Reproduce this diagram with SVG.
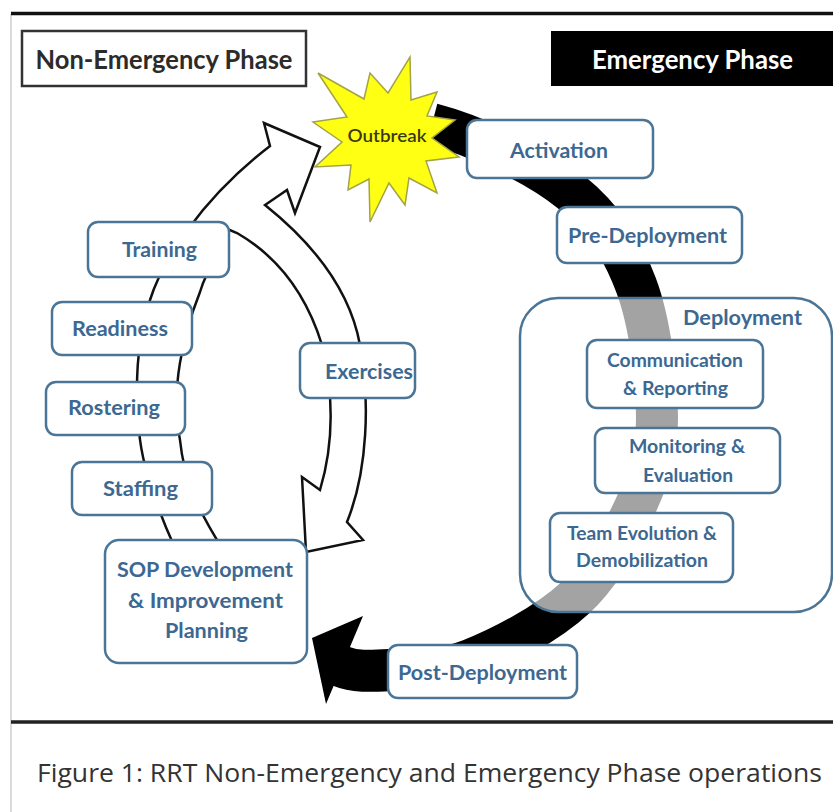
<svg xmlns="http://www.w3.org/2000/svg" width="833" height="812" viewBox="0 0 833 812">
<style>
.box{fill:#fff;stroke:#4a7596;stroke-width:2.5}
.t{font-family:Lato,"Liberation Sans",sans-serif;font-weight:bold;fill:#3c6891;text-anchor:middle}
.f20{font-size:20px}
.f18{font-size:18px}
.hdr{font-family:Lato,"Liberation Sans",sans-serif;font-weight:bold;font-size:26px;text-anchor:middle}
.arrow-fill{fill:#fff;stroke:none}
.arrow-line{fill:none;stroke:#111;stroke-width:2.5;stroke-linejoin:miter}
</style>
<rect width="833" height="812" fill="#fff"/>
<!-- frame -->
<line x1="11" y1="14" x2="11" y2="812" stroke="#cfcfcf" stroke-width="1.5"/>
<line x1="11" y1="13.5" x2="833" y2="13.5" stroke="#111" stroke-width="3.5"/>
<line x1="11" y1="722" x2="833" y2="722" stroke="#222" stroke-width="3.5"/>

<g id="connectors">
  <!-- emergency cycle band -->
  <path d="M 432,124 C 478,136 538.3,165.5 571,192 C 603.7,218.5 621.7,247.3 636,285 C 650.3,322.7 657,381.3 657,418 C 657,454.7 649.7,475 636,505 C 622.3,535 602.7,572.2 575,598 C 547.3,623.8 500.8,648 470,660 C 439.2,672 410.8,668.7 390,670 C 369.2,671.3 355,672 340,666" fill="none" stroke="#000" stroke-width="42"/>
  <polygon points="363,616 312,638 326,704" fill="#000"/>
  <!-- non-emergency hollow arrows -->
  <path class="arrow-fill" d="M 175,548 C 160,515 142,470 139,430 C 135,390 136,340 150,300 C 162,262 200,200 270,146 L 264,123 L 320,147 L 295,213 L 287,190 L 265,205 L 240,228 C 225,245 205,270 200,292 C 183,335 170,390 180,440 C 184,480 198,510 222,548 Z"/>
  <path class="arrow-fill" d="M 265,205 C 315,245 350,290 360,345 C 370,400 368,470 347,522 L 363,540 L 306,552 L 302,477 L 320,490 C 332,450 335,400 322,345 C 305,290 275,255 237,233 Z"/>
  <path class="arrow-line" d="M 175,548 C 160,515 142,470 139,430 C 135,390 136,340 150,300 C 162,262 200,200 270,146 L 264,123 L 320,147 L 295,213 L 287,190 L 265,205 C 315,245 350,290 360,345 C 370,400 368,470 347,522 L 363,540 L 306,552 L 302,477 L 320,490 C 332,450 335,400 322,345 C 305,290 275,255 237,233 L 225,228"/>
  <path class="arrow-line" d="M 215,262 C 205,275 202,285 200,292 C 183,335 170,390 180,440 C 184,480 198,510 222,548"/>
</g>

<g id="non-emergency-phase">
  <rect x="22" y="31" width="284" height="55" fill="#fff" stroke="#333" stroke-width="2.5"/>
  <text class="hdr" x="164" y="69" fill="#2b2b2b" textLength="257" lengthAdjust="spacingAndGlyphs">Non-Emergency Phase</text>
</g>
<g id="emergency-phase">
  <rect x="551" y="31" width="282" height="55" fill="#000"/>
  <text class="hdr" x="692.5" y="69" fill="#fff" textLength="201" lengthAdjust="spacingAndGlyphs">Emergency Phase</text>
</g>

<g id="outbreak">
  <polygon points="318,73 364,99 370,73 388,93 410,57 411,100 437,92 427,116 455,120 432,138 459,157 426,161 437,193 409,178 405,205 389,183 370,222 369,179 348,190 351,165 315,167 342,142 313,122 347,117" fill="#ffff14" stroke="#a3a347" stroke-width="1.5" stroke-linejoin="miter"/>
  <text x="387" y="142" font-family="Lato,'Liberation Sans',sans-serif" font-weight="600" font-size="17" fill="#3a3a12" text-anchor="middle" textLength="79" lengthAdjust="spacingAndGlyphs">Outbreak</text>
</g>

<g id="activation">
  <rect class="box" x="467" y="120" width="186" height="58" rx="10"/>
  <text class="t f20" x="559" y="158" textLength="98" lengthAdjust="spacingAndGlyphs">Activation</text>
</g>
<g id="pre-deployment">
  <rect class="box" x="557" y="207" width="185" height="56" rx="10"/>
  <text class="t f20" x="647.5" y="243" textLength="159" lengthAdjust="spacingAndGlyphs">Pre-Deployment</text>
</g>

<g id="deployment">
  <rect x="520" y="298" width="312" height="314" rx="38" fill="#fff" fill-opacity="0.64" stroke="#4a7596" stroke-width="2.5"/>
  <text class="t f20" x="802" y="325" style="text-anchor:end" textLength="119" lengthAdjust="spacingAndGlyphs">Deployment</text>
</g>
<g id="communication">
  <rect class="box" x="587" y="340" width="176" height="68" rx="10"/>
  <text class="t f18" x="675" y="367" textLength="136" lengthAdjust="spacingAndGlyphs">Communication</text>
  <text class="t f18" x="675.5" y="395" textLength="105" lengthAdjust="spacingAndGlyphs">&amp; Reporting</text>
</g>
<g id="monitoring">
  <rect class="box" x="595" y="428" width="185" height="65" rx="10"/>
  <text class="t f18" x="687" y="453" textLength="116" lengthAdjust="spacingAndGlyphs">Monitoring &amp;</text>
  <text class="t f18" x="688" y="482" textLength="90" lengthAdjust="spacingAndGlyphs">Evaluation</text>
</g>
<g id="team-evolution">
  <rect class="box" x="550" y="513" width="183" height="69" rx="10"/>
  <text class="t f18" x="642" y="540" textLength="150" lengthAdjust="spacingAndGlyphs">Team Evolution &amp;</text>
  <text class="t f18" x="642" y="567" textLength="132" lengthAdjust="spacingAndGlyphs">Demobilization</text>
</g>
<g id="post-deployment">
  <rect class="box" x="388" y="645" width="189" height="53" rx="10"/>
  <text class="t f20" x="482.5" y="680" textLength="169" lengthAdjust="spacingAndGlyphs">Post-Deployment</text>
</g>

<g id="training">
  <rect class="box" x="88" y="222" width="141" height="55" rx="10"/>
  <text class="t f20" x="159.5" y="257" textLength="75" lengthAdjust="spacingAndGlyphs">Training</text>
</g>
<g id="readiness">
  <rect class="box" x="52" y="302" width="140" height="53" rx="10"/>
  <text class="t f20" x="120" y="336" textLength="96" lengthAdjust="spacingAndGlyphs">Readiness</text>
</g>
<g id="rostering">
  <rect class="box" x="46" y="382" width="139" height="53" rx="10"/>
  <text class="t f20" x="114" y="415" textLength="92" lengthAdjust="spacingAndGlyphs">Rostering</text>
</g>
<g id="staffing">
  <rect class="box" x="72" y="462" width="140" height="53" rx="10"/>
  <text class="t f20" x="140.5" y="496" textLength="75" lengthAdjust="spacingAndGlyphs">Staffing</text>
</g>
<g id="exercises">
  <rect class="box" x="300" y="343" width="115" height="55" rx="10"/>
  <text class="t f20" x="369" y="379" textLength="88" lengthAdjust="spacingAndGlyphs">Exercises</text>
</g>
<g id="sop">
  <rect class="box" x="105" y="540" width="202" height="123" rx="14"/>
  <text class="t" font-size="21" x="205" y="577" textLength="176" lengthAdjust="spacingAndGlyphs">SOP Development</text>
  <text class="t" font-size="21" x="205.5" y="608" textLength="155" lengthAdjust="spacingAndGlyphs">&amp; Improvement</text>
  <text class="t" font-size="21" x="206.5" y="638" textLength="83" lengthAdjust="spacingAndGlyphs">Planning</text>
</g>

<text x="37" y="782" font-family="'Open Sans','Liberation Sans',sans-serif" font-size="25" fill="#333" textLength="785" lengthAdjust="spacingAndGlyphs">Figure 1: RRT Non-Emergency and Emergency Phase operations</text>
</svg>
